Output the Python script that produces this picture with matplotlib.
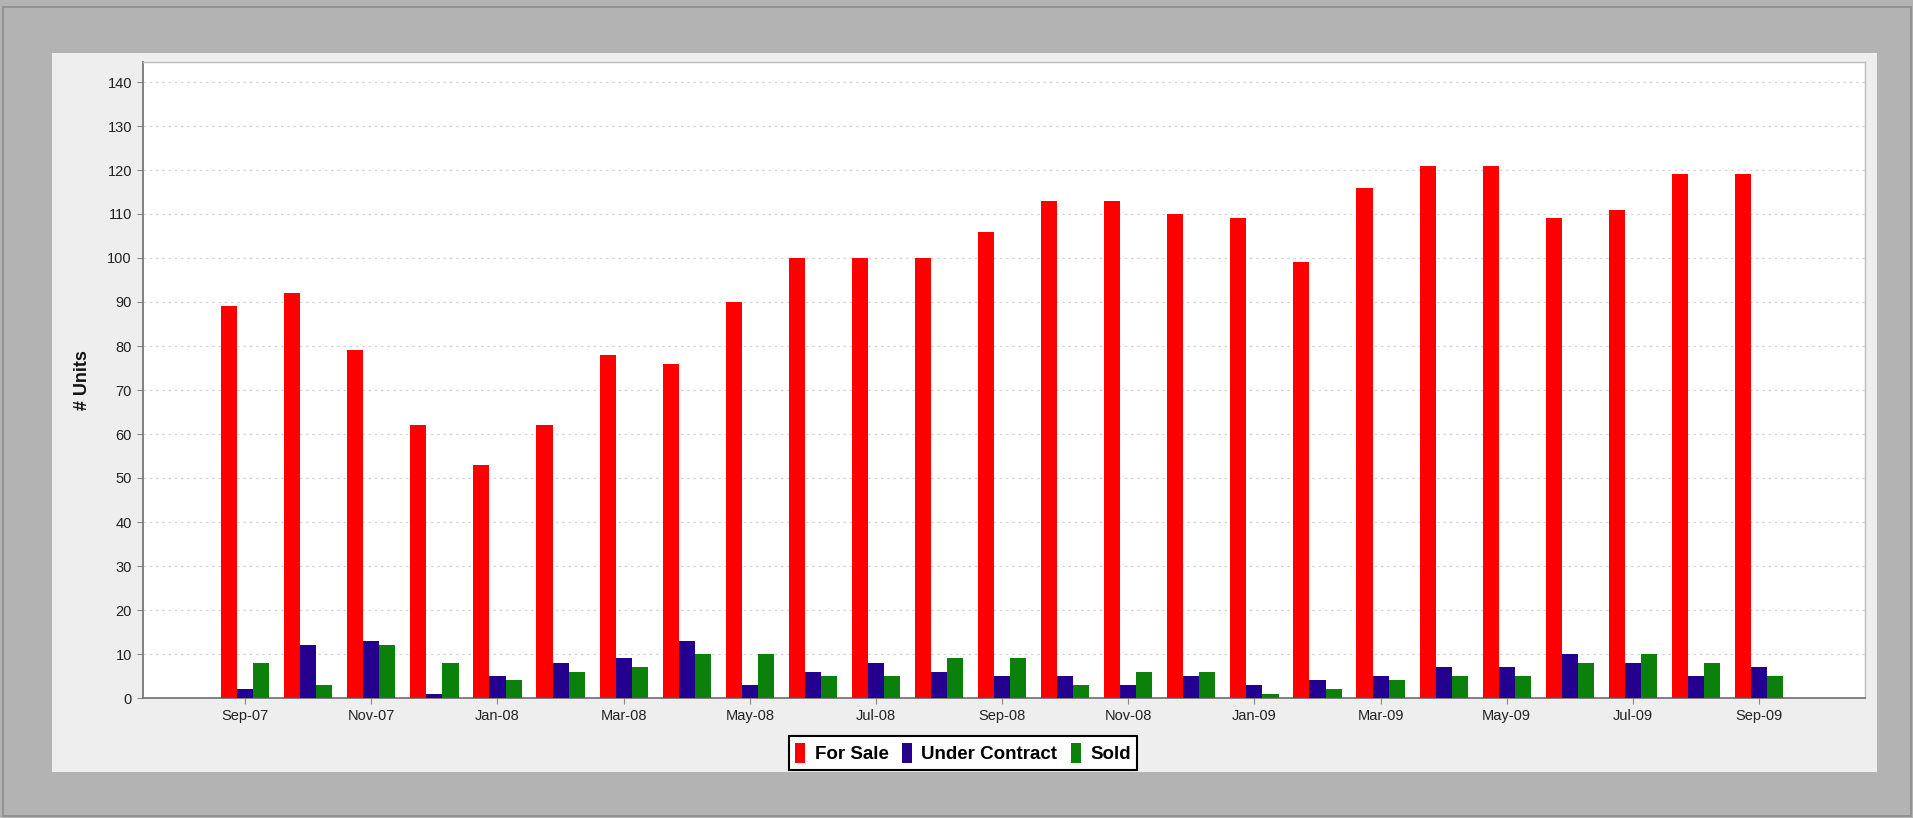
import matplotlib
matplotlib.use("Agg")
import matplotlib.pyplot as plt
from matplotlib.patches import Rectangle, Patch
import numpy as np

plt.rcParams['font.family'] = ['Liberation Sans', 'DejaVu Sans']

months = ["Sep-07", "Oct-07", "Nov-07", "Dec-07", "Jan-08", "Feb-08", "Mar-08", "Apr-08",
          "May-08", "Jun-08", "Jul-08", "Aug-08", "Sep-08", "Oct-08", "Nov-08", "Dec-08",
          "Jan-09", "Feb-09", "Mar-09", "Apr-09", "May-09", "Jun-09", "Jul-09", "Aug-09", "Sep-09"]
for_sale = [89, 92, 79, 62, 53, 62, 78, 76, 90, 100, 100, 100, 106, 113, 113, 110,
            109, 99, 116, 121, 121, 109, 111, 119, 119]
under_contract = [2, 12, 13, 1, 5, 8, 9, 13, 3, 6, 8, 6, 5, 5, 3, 5,
                  3, 4, 5, 7, 7, 10, 8, 5, 7]
sold = [8, 3, 12, 8, 4, 6, 7, 10, 10, 5, 5, 9, 9, 3, 6, 6,
        1, 2, 4, 5, 5, 8, 10, 8, 5]
series_names = ["For Sale", "Under Contract", "Sold"]
colors = ["#ff0000", "#24008e", "#0b800b"]
y_ticks = list(range(0, 141, 10))

W, H = 1913, 818
fig = plt.figure(figsize=(W / 100, H / 100), dpi=100, facecolor="#b3b3b3")

# outer frame border and light panel
fig.patches.append(Rectangle((3 / W, 2 / H), (W - 5) / W, (H - 9) / H, transform=fig.transFigure,
                             facecolor="none", edgecolor="#8c8c8c", linewidth=1.2, zorder=-10))
fig.patches.append(Rectangle((52 / W, 1 - 772 / H), (1877 - 52) / W, (772 - 53) / H,
                             transform=fig.transFigure, facecolor="#eeeeee", edgecolor="none",
                             zorder=-9))

ax_l, ax_r, ax_t, ax_b = 143, 1865, 62, 698
ax = fig.add_axes([ax_l / W, 1 - ax_b / H, (ax_r - ax_l) / W, (ax_b - ax_t) / H])
ax.set_facecolor("white")

x = np.arange(len(months))
bw = 0.255
for i, (vals, name, c) in enumerate(zip([for_sale, under_contract, sold], series_names, colors)):
    ax.bar(x + (i - 1) * bw, vals, width=bw, color=c, label=name, zorder=3, linewidth=0)

ax.set_xlim(-1.62, len(months) - 1 + 1.68)
ax.set_ylim(0, 140 * (ax_b - ax_t) / (ax_b - 82))
ax.set_yticks(y_ticks)
ax.set_yticklabels([str(v) for v in y_ticks], fontsize=10.5, color="#222222")
ax.set_xticks(x[::2])
ax.set_xticklabels(months[::2], fontsize=10.5, color="#222222")
ax.tick_params(axis="both", length=4, width=0.8, color="#888888", pad=4)
ax.yaxis.grid(True, linestyle=(0, (2, 3)), color="#d4d4d4", linewidth=0.9, zorder=0)
ax.set_axisbelow(True)

for s in ["left", "bottom"]:
    ax.spines[s].set_color("#777777")
    ax.spines[s].set_linewidth(1.3)
for s in ["top", "right"]:
    ax.spines[s].set_color("#bbbbbb")
    ax.spines[s].set_linewidth(1.0)

ax.set_ylabel("# Units", fontsize=13, fontweight="bold", color="#111111", labelpad=12)

handles = [Patch(facecolor=c, edgecolor="none") for c in colors]
leg = fig.legend(handles, series_names, loc="center",
                 bbox_to_anchor=(963 / W, 1 - 753 / H), ncol=3,
                 prop={"weight": "bold", "size": 13.5},
                 frameon=True, fancybox=False, edgecolor="black", facecolor="white",
                 handlelength=0.55, handleheight=1.3, handletextpad=0.5, columnspacing=0.7,
                 borderpad=0.35)
leg.get_frame().set_linewidth(1.5)
leg.get_frame().set_alpha(1)

fig.savefig("out.png", dpi=100, facecolor=fig.get_facecolor())
